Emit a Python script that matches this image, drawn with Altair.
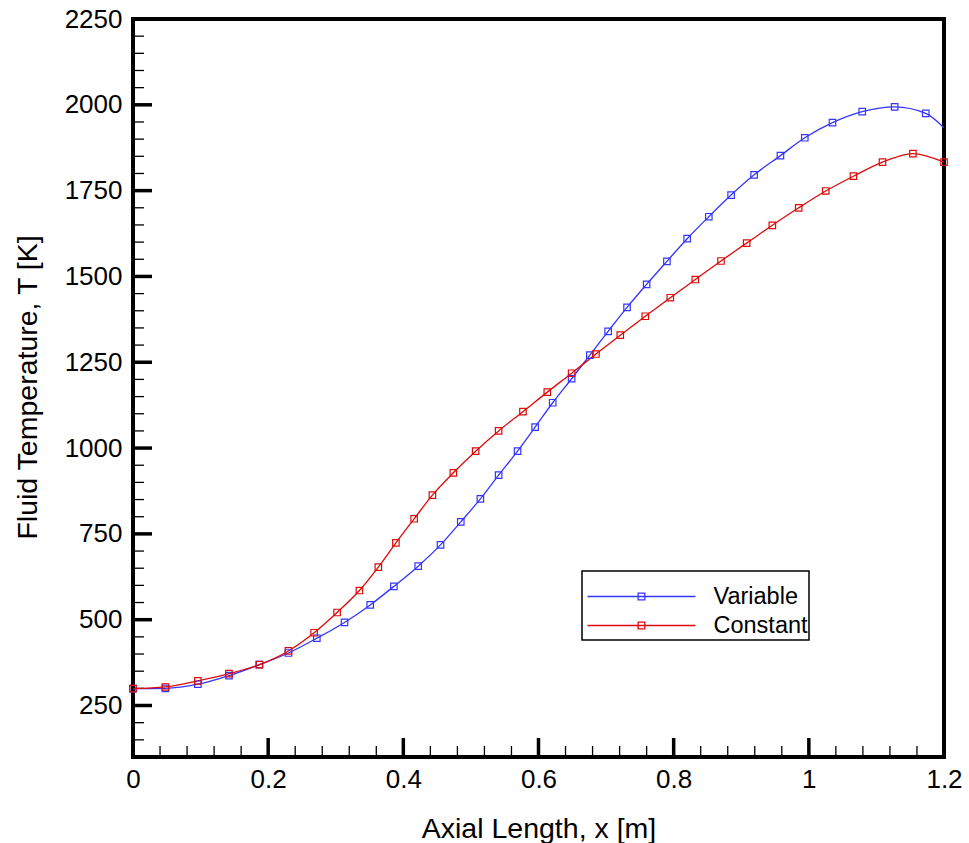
import altair as alt
import pandas as pd
import numpy as np

# ---- data ----
var_x = [0.0, 0.048, 0.096, 0.142, 0.187, 0.230, 0.272, 0.313, 0.351, 0.386, 0.422, 0.455,
         0.485, 0.514, 0.541, 0.569, 0.595, 0.621, 0.649, 0.676, 0.703, 0.731, 0.760, 0.790,
         0.820, 0.852, 0.885, 0.919, 0.958, 0.994, 1.035, 1.079, 1.127, 1.173, 1.2]
var_T = [299, 300, 312, 337, 369, 403, 446, 492, 543, 597, 656, 718,
         785, 852, 921, 991, 1061, 1132, 1202, 1271, 1340, 1410, 1477, 1544,
         1610, 1674, 1737, 1796, 1852, 1904, 1948, 1980, 1994, 1975, 1933]
var_marker = [True] * 34 + [False]

con_x = [0.0, 0.048, 0.096, 0.142, 0.187, 0.230, 0.268, 0.302, 0.335, 0.363, 0.389, 0.416,
         0.443, 0.474, 0.507, 0.541, 0.577, 0.613, 0.649, 0.685, 0.721, 0.758, 0.795, 0.832,
         0.870, 0.908, 0.946, 0.985, 1.025, 1.066, 1.109, 1.154, 1.2]
con_T = [299, 304, 322, 343, 369, 409, 462, 521, 585, 653, 724, 794,
         863, 928, 991, 1050, 1106, 1163, 1218, 1274, 1329, 1384, 1438, 1491,
         1545, 1597, 1649, 1700, 1749, 1792, 1833, 1858, 1833]
con_marker = [True] * 33

series_names = ["Variable", "Constant"]
series_colors = ["#3535ff", "#dd0a0a"]

x_major = [0, 0.2, 0.4, 0.6, 0.8, 1.0, 1.2]
x_minor = [0.04, 0.08, 0.12, 0.16, 0.24, 0.28, 0.32, 0.36, 0.44, 0.48, 0.52, 0.56,
           0.64, 0.68, 0.72, 0.76, 0.84, 0.88, 0.92, 0.96, 1.04, 1.08, 1.12, 1.16]
y_major = [250, 500, 750, 1000, 1250, 1500, 1750, 2000, 2250]
y_minor = [100, 150, 200, 300, 350, 400, 450, 550, 600, 650, 700, 800, 850, 900, 950,
           1050, 1100, 1150, 1200, 1300, 1350, 1400, 1450, 1550, 1600, 1650, 1700,
           1800, 1850, 1900, 1950, 2050, 2100, 2150, 2200]

# ---- layout ----
W, H = 811, 738
FONT = "Liberation Sans"

df = pd.concat([
    pd.DataFrame({"series": "Variable", "x": var_x, "T": var_T, "marker": var_marker, "order": range(len(var_x))}),
    pd.DataFrame({"series": "Constant", "x": con_x, "T": con_T, "marker": con_marker, "order": range(len(con_x))}),
])

xscale = alt.Scale(domain=[0, 1.2], nice=False, zero=False)
yscale = alt.Scale(domain=[100, 2250], nice=False, zero=False)

xaxis = alt.Axis(values=x_major, format="~g", title="Axial Length, x [m]", grid=False,
                 ticks=False, tickSize=0, domain=False, labelFlush=False, labelOverlap=False,
                 labelFont=FONT, labelFontSize=26, labelColor="black", labelPadding=9,
                 titleFont=FONT, titleFontSize=28.5, titleFontWeight="normal", titleColor="black",
                 titleBaseline="alphabetic", titleY=80)
yaxis = alt.Axis(values=y_major, format="d", title="Fluid Temperature, T [K]", grid=False,
                 ticks=False, tickSize=0, domain=False, labelFlush=False, labelOverlap=False,
                 labelFont=FONT, labelFontSize=26, labelColor="black", labelPadding=11,
                 titleFont=FONT, titleFontSize=28.5, titleFontWeight="normal", titleColor="black",
                 titleBaseline="alphabetic", titleX=-97, titleY=368)

X = alt.X("x:Q", scale=xscale, axis=xaxis)
Y = alt.Y("T:Q", scale=yscale, axis=yaxis)

legend_symbol = "M-1,0L1,0M-0.062,-0.062L0.062,-0.062L0.062,0.062L-0.062,0.062Z"

lines = alt.Chart(df).mark_line(interpolate="monotone", strokeWidth=1.3, clip=True).encode(
    x=X, y=Y,
    order="order:Q",
    color=alt.Color("series:N",
                    scale=alt.Scale(domain=series_names, range=series_colors),
                    legend=alt.Legend(title=" ", titleFontSize=8, titlePadding=3,
                                      orient="none", legendX=449, legendY=552,
                                      symbolType=legend_symbol, symbolSize=11664,
                                      symbolStrokeWidth=1.3, symbolFillColor="transparent",
                                      symbolOffset=3.5,
                                      clipHeight=27, rowPadding=2, labelOffset=17,
                                      labelFont=FONT, labelFontSize=23.5, labelColor="black",
                                      padding=1, strokeColor="black",
                                      fillColor="white")),
)

points = alt.Chart(df).transform_filter("datum.marker").mark_point(
    shape="square", filled=False, size=42, strokeWidth=1.2, opacity=1).encode(
    x=X, y=Y,
    stroke=alt.Stroke("series:N", scale=alt.Scale(domain=series_names, range=series_colors),
                      legend=None),
)

xmaj = alt.Chart(pd.DataFrame({"x": x_major})).mark_rule(color="black", strokeWidth=3.5).encode(
    x=X, y=alt.value(H), y2=alt.value(H - 19))
xmin = alt.Chart(pd.DataFrame({"x": x_minor})).mark_rule(color="black", strokeWidth=1.3).encode(
    x=X, y=alt.value(H), y2=alt.value(H - 11))
ymaj = alt.Chart(pd.DataFrame({"T": y_major})).mark_rule(color="black", strokeWidth=3.5).encode(
    y=Y, x=alt.value(0), x2=alt.value(19))
ymin = alt.Chart(pd.DataFrame({"T": y_minor})).mark_rule(color="black", strokeWidth=1.3).encode(
    y=Y, x=alt.value(0), x2=alt.value(11))

chart = alt.layer(xmin, xmaj, ymin, ymaj, lines, points).properties(
    width=W, height=H,
    autosize=alt.AutoSizeParams(type="none"),
    padding={"left": 133, "top": 19, "right": 25, "bottom": 86},
    background="white",
).configure_view(stroke="black", strokeWidth=4).configure_legend(strokeWidth=1.5)

chart.save("out.html", embed_options={"renderer": "svg", "actions": False})
